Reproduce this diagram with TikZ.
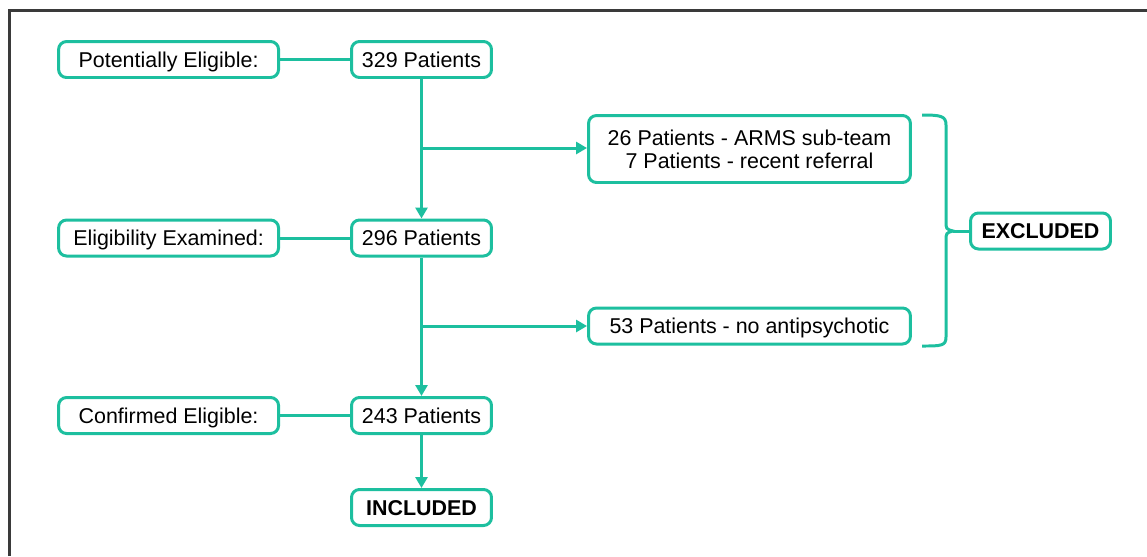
\documentclass[tikz,border=0pt]{standalone}
\usepackage{fontspec}
\setmainfont{Liberation Sans}
\usetikzlibrary{arrows.meta,positioning}
\definecolor{flowTeal}{HTML}{1DBF9F}
\definecolor{frameGrey}{HTML}{3A3A3A}

\begin{document}
\begin{tikzpicture}[
      x=0.02cm, y=-0.02cm,
      node distance=1.4cm,
      box/.style={rectangle, rounded corners=1.6mm, draw=flowTeal, line width=1.7pt,
                  align=center, inner sep=0pt, minimum height=0.72cm,
                  text height=8.7pt, text depth=0pt,
                  font=\fontsize{12.2}{13.2}\selectfont},
      stage/.style={box, minimum width=4.4cm},
      count/.style={box, minimum width=2.8cm},
      reason/.style={box, minimum width=6.44cm},
      link/.style={draw=flowTeal, line width=1.7pt},
      >={Triangle[length=2.2mm,width=2.4mm]}
    ]
    \useasboundingbox (0,0) rectangle (1147,556);
    \draw[frameGrey, line width=1.2pt] (9.5,556) -- (9.5,10.5) -- (1147,10.5);

    \node[count] (c0) at (421.5,59.5) {329 Patients};
    \node[count] (c1) at (421.5,238) {296 Patients};
    \node[count] (c2) at (421.5,415.5) {243 Patients};
    \node[count] (inc) at (421.5,507.5) {\textbf{INCLUDED}};

    \node[stage, left=of c0] (s0) {Potentially Eligible:};
    \node[stage, left=of c1] (s1) {Eligibility Examined:};
    \node[stage, left=of c2] (s2) {Confirmed Eligible:};

    \node[reason, minimum height=1.34cm, text height={}, text depth={}] (r0) at (749.5,149)
      {26 Patients - ARMS sub-team\\7 Patients - recent referral};
    \node[reason] (r1) at (749.5,326) {53 Patients - no antipsychotic};
    \node[count] (exc) at (1040.5,231) {\textbf{EXCLUDED}};

    \coordinate (b0) at (c0 |- 0,148);
    \coordinate (b1) at (c1 |- r1);
    \coordinate (tip) at (953,231);

    \draw[link] (s0) -- (c0);
    \draw[link] (s1) -- (c1);
    \draw[link] (s2) -- (c2);
    \draw[link,->] (c0) -- (c1);
    \draw[link,->] (c1) -- (c2);
    \draw[link,->] (c2) -- (inc);
    \draw[link,->] (b0) -- (b0 -| r0.west);
    \draw[link,->] (b1) -- (r1);

    % bracket round the exclusions
    \draw[link] (922,115) .. controls (941,115) and (946,116) .. (946,125) -- (946,221)
      .. controls (946,229) .. (tip) .. controls (946,233) .. (946,241) -- (946,337)
      .. controls (946,346) and (941,346) .. (922,346);
    \draw[link] (tip) -- (exc);
  \end{tikzpicture}
\end{document}
